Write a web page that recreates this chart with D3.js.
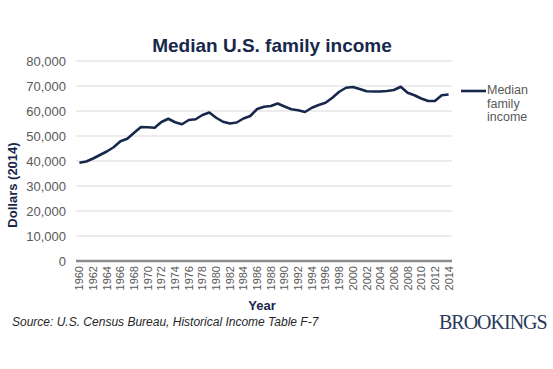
<!DOCTYPE html>
<html>
<head>
<meta charset="utf-8">
<script src="https://cdn.jsdelivr.net/npm/d3@7"></script>
<style>
  body { margin: 0; background: #fff; }
  svg { display: block; font-family: Arial, "Liberation Sans", sans-serif; }
</style>
</head>
<body>
<script>
const years = d3.range(1960, 2015);
const income = [
  39300, 39800, 41000, 42400, 43800, 45500, 47900, 48900, 51300, 53600,
  53500, 53300, 55600, 56900, 55500, 54700, 56400, 56700, 58400, 59400,
  57300, 55700, 55000, 55400, 57000, 58000, 60800, 61700, 62000, 63000,
  61800, 60700, 60300, 59600, 61300, 62400, 63300, 65300, 67700, 69300,
  69600, 68800, 67900, 67800, 67800, 68000, 68400, 69700, 67300, 66300,
  65000, 64000, 64000, 66300, 66600
];
const yTicks = [0, 10000, 20000, 30000, 40000, 50000, 60000, 70000, 80000];

const width = 553, height = 369;
const navy = '#17284c';
const plotLeft = 76, plotRight = 452, plotTop = 61, plotBottom = 261;

const svg = d3.select('body').append('svg')
    .attr('width', width)
    .attr('height', height);

const x = d3.scaleBand().domain(years).range([plotLeft, plotRight]);
const y = d3.scaleLinear().domain([0, 80000]).range([plotBottom, plotTop]);

// gridlines
svg.append('g')
  .selectAll('line')
  .data(yTicks.filter(d => d > 0))
  .join('line')
    .attr('x1', plotLeft).attr('x2', plotRight)
    .attr('y1', d => y(d)).attr('y2', d => y(d))
    .attr('stroke', '#d9d9d9')
    .attr('stroke-width', 1.2);

// y labels
svg.append('g')
  .selectAll('text')
  .data(yTicks)
  .join('text')
    .attr('x', 66)
    .attr('y', d => y(d))
    .attr('dy', '0.36em')
    .attr('text-anchor', 'end')
    .attr('fill', '#595959')
    .style('font-size', '13px')
    .text(d => d3.format(',')(d));

// baseline
svg.append('line')
    .attr('x1', plotLeft).attr('x2', plotRight)
    .attr('y1', plotBottom).attr('y2', plotBottom)
    .attr('stroke', '#8c8c8c')
    .attr('stroke-width', 2.5);

// x labels, every other year
svg.append('g')
  .selectAll('text')
  .data(years.filter(d => d % 2 === 0))
  .join('text')
    .attr('transform', d => `translate(${x(d) + x.bandwidth() / 2},266) rotate(-90)`)
    .attr('text-anchor', 'end')
    .attr('dy', '0.36em')
    .attr('fill', '#595959')
    .style('font-size', '11px')
    .text(d => d);

// line
const line = d3.line()
    .x((d, i) => x(years[i]) + x.bandwidth() / 2)
    .y(d => y(d));

svg.append('path')
    .datum(income)
    .attr('d', line)
    .attr('fill', 'none')
    .attr('stroke', navy)
    .attr('stroke-width', 2.6)
    .attr('stroke-linejoin', 'round');

// title
svg.append('text')
    .attr('x', 272).attr('y', 52)
    .attr('text-anchor', 'middle')
    .attr('fill', navy)
    .style('font-size', '19px')
    .style('font-weight', 'bold')
    .text('Median U.S. family income');

// axis titles
svg.append('text')
    .attr('x', 262).attr('y', 310)
    .attr('text-anchor', 'middle')
    .attr('fill', navy)
    .style('font-size', '13px')
    .style('font-weight', 'bold')
    .text('Year');

svg.append('text')
    .attr('transform', 'translate(17,185) rotate(-90)')
    .attr('text-anchor', 'middle')
    .attr('fill', navy)
    .style('font-size', '13px')
    .style('font-weight', 'bold')
    .text('Dollars (2014)');

// legend
svg.append('line')
    .attr('x1', 461).attr('x2', 486)
    .attr('y1', 91).attr('y2', 91)
    .attr('stroke', navy)
    .attr('stroke-width', 2.6);

svg.append('g')
  .selectAll('text')
  .data(['Median', 'family', 'income'])
  .join('text')
    .attr('x', 487)
    .attr('y', (d, i) => 94 + i * 13.5)
    .attr('fill', '#595959')
    .style('font-size', '12.5px')
    .text(d => d);

// source
svg.append('text')
    .attr('x', 12).attr('y', 326)
    .attr('fill', '#262626')
    .style('font-size', '12px')
    .style('font-style', 'italic')
    .text('Source: U.S. Census Bureau, Historical Income Table F-7');

svg.append('text')
    .attr('x', 439).attr('y', 329)
    .attr('fill', '#2a3b5c')
    .style('font-family', '"Liberation Serif", "DejaVu Serif", serif')
    .style('font-size', '20px')
    .style('letter-spacing', '-1px')
    .text('BROOKINGS');
</script>
</body>
</html>
